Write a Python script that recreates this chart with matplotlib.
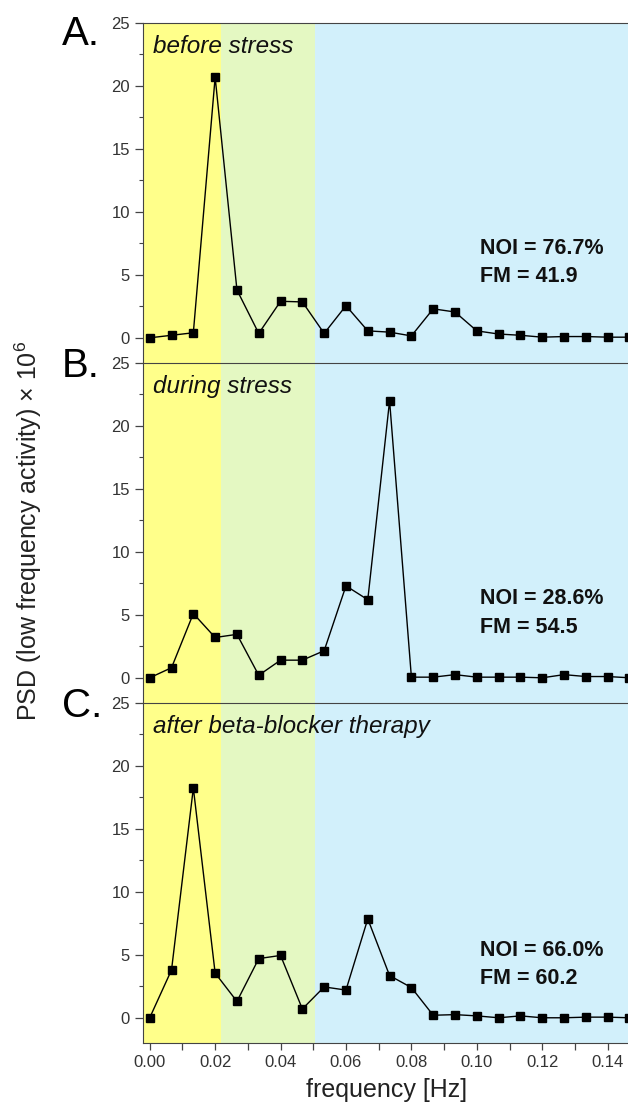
import numpy as np
import matplotlib
matplotlib.use("Agg")
import matplotlib.pyplot as plt
from matplotlib.ticker import MultipleLocator, FormatStrFormatter

plt.rcParams['font.family'] = ['Liberation Sans', 'DejaVu Sans']
plt.rcParams['mathtext.fontset'] = 'custom'
plt.rcParams['mathtext.rm'] = 'Liberation Sans'

# frequency bins (1/150 Hz spacing)
freq = np.arange(23) / 150.0

psd_before = [0.0, 0.2, 0.4, 20.7, 3.8, 0.35, 2.9, 2.85, 0.35, 2.55, 0.55, 0.45, 0.15,
              2.3, 2.05, 0.55, 0.3, 0.2, 0.05, 0.1, 0.1, 0.05, 0.05]
psd_during = [0.0, 0.8, 5.1, 3.2, 3.45, 0.2, 1.4, 1.4, 2.15, 7.3, 6.2, 22.0, 0.05,
              0.05, 0.25, 0.05, 0.05, 0.05, 0.0, 0.25, 0.1, 0.1, 0.0]
psd_after = [0.0, 3.8, 18.25, 3.55, 1.3, 4.7, 4.95, 0.7, 2.45, 2.2, 7.85, 3.35, 2.4,
             0.2, 0.25, 0.15, 0.0, 0.15, 0.0, 0.0, 0.05, 0.05, 0.0]

series = [psd_before, psd_during, psd_after]
letters = ['A.', 'B.', 'C.']
titles = ['before stress', 'during stress', 'after beta-blocker therapy']
noi = ['76.7%', '28.6%', '66.0%']
fm = ['41.9', '54.5', '60.2']
text_y = [6.0, 5.15, 4.2]

# frequency bands
bands = [(-0.01, 0.0217, '#ffff8a'), (0.0217, 0.0505, '#e4f8c2'), (0.0505, 0.2, '#d2f0fb')]

fig = plt.figure(figsize=(6.28, 11.06), dpi=100)

left, width = 0.228, 0.775
top, h = 0.9792, 0.3074
letter_y = [0.959, 0.6594, 0.352]

axes = []
for i in range(3):
    ax = fig.add_axes([left, top - (i + 1) * h, width, h])
    axes.append(ax)
    for x0, x1, c in bands:
        ax.axvspan(x0, x1, color=c, lw=0, zorder=0)
    ax.plot(freq, series[i], color='black', lw=1.0, marker='s', ms=5.5,
            mfc='black', mec='black', zorder=3)
    ax.set_xlim(-0.002, 0.1468)
    ax.set_ylim(-2, 25)
    ax.yaxis.set_major_locator(MultipleLocator(5))
    ax.yaxis.set_minor_locator(MultipleLocator(2.5))
    ax.xaxis.set_major_locator(MultipleLocator(0.02))
    ax.xaxis.set_minor_locator(MultipleLocator(0.01))
    ax.tick_params(axis='y', which='major', direction='out', length=6, width=0.9,
                   color='#444444', labelsize=12, labelcolor='#333333')
    ax.tick_params(axis='y', which='minor', direction='out', length=3, width=0.8,
                   color='#444444')
    ax.tick_params(axis='x', which='both', direction='out', length=5, width=0.9,
                   color='#444444', labelsize=12, labelcolor='#333333')
    ax.spines['right'].set_visible(False)
    for s in ['top', 'left', 'bottom']:
        ax.spines[s].set_color('#444444')
    if i < 2:
        ax.spines['bottom'].set_visible(False)
        ax.tick_params(axis='x', which='both', bottom=False, labelbottom=False)
    ax.text(0.02, 0.912, titles[i], transform=ax.transAxes, fontsize=17.5,
            style='italic', va='baseline', ha='left', color='#111111')
    ax.text(0.101, text_y[i], 'NOI = ' + noi[i] + '\nFM = ' + fm[i], fontsize=15.5,
            fontweight='bold', va='center', ha='left', color='#111111',
            linespacing=1.45)
    fig.text(0.098, letter_y[i], letters[i], fontsize=29, va='baseline', ha='left')

axes[2].xaxis.set_major_formatter(FormatStrFormatter('%.2f'))
axes[2].set_xlabel('frequency [Hz]', fontsize=18, labelpad=6, color='#222222')

fig.text(0.045, 0.52, r'PSD (low frequency activity) × 10$^{6}$', rotation=90,
         fontsize=18, va='center', ha='center', color='#222222')

fig.savefig('out.png', dpi=100)
